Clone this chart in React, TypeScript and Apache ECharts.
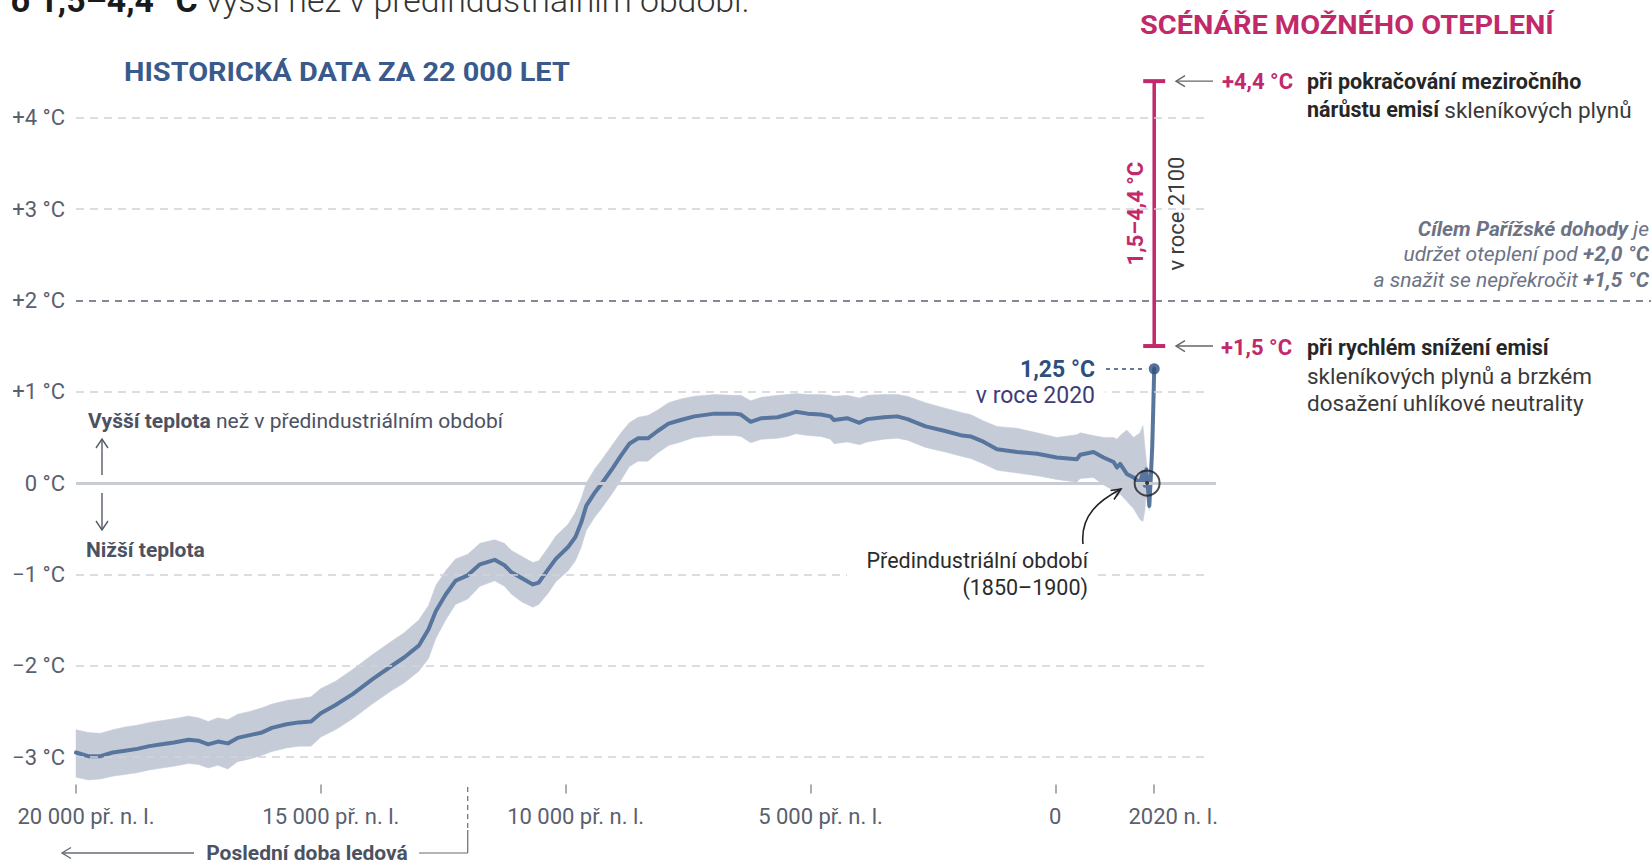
import React, { useEffect, useRef } from "react";
import * as echarts from "echarts";

const FONT = "Roboto, 'Noto Sans', sans-serif";

// ---- data ----
const years = [
  -20000, -19750, -19500, -19250, -19000, -18750, -18500, -18250, -18000, -17700,
  -17500, -17300, -17100, -16900, -16700, -16450, -16200, -16000, -15700, -15450,
  -15200, -15000, -14700, -14350, -13950, -13550, -13300, -13000, -12800, -12650,
  -12450, -12250, -12000, -11750, -11450, -11250, -11100, -10900, -10670, -10550,
  -10350, -10200, -9950, -9800, -9680, -9580, -9400, -9270, -9070, -8870,
  -8700, -8520, -8320, -8120, -7900, -7650, -7370, -6960, -6560, -6420,
  -6220, -6000, -5670, -5470, -5300, -5060, -4790, -4590, -4520, -4250,
  -4000, -3840, -3500, -3230, -3020, -2650, -2250, -1900, -1730, -1460,
  -1190, -780, -370, 30, 440, 510, 780, 985, 1190, 1260,
  1325, 1460, 1600, 1730, 1790, 1830, 1860, 1890, 1920, 1950,
  1980, 2000, 2020,
];
const meanTemp = [
  -2.95, -2.99, -2.99, -2.95, -2.93, -2.91, -2.88, -2.86, -2.84, -2.81,
  -2.82, -2.86, -2.83, -2.85, -2.79, -2.76, -2.73, -2.68, -2.64, -2.62,
  -2.61, -2.52, -2.43, -2.31, -2.15, -2.0, -1.91, -1.78, -1.6, -1.4,
  -1.22, -1.07, -1.01, -0.89, -0.84, -0.9, -0.98, -1.04, -1.11, -1.09,
  -0.94, -0.83, -0.7, -0.59, -0.43, -0.25, -0.1, -0.01, 0.14, 0.3,
  0.43, 0.49, 0.49, 0.57, 0.65, 0.69, 0.73, 0.76, 0.76, 0.75,
  0.67, 0.71, 0.72, 0.75, 0.78, 0.76, 0.75, 0.73, 0.69, 0.71,
  0.66, 0.7, 0.72, 0.73, 0.7, 0.62, 0.57, 0.52, 0.51, 0.45,
  0.37, 0.34, 0.32, 0.28, 0.26, 0.31, 0.34, 0.28, 0.23, 0.17,
  0.21, 0.1, 0.06, 0.0, 0.12, -0.03, 0.15, -0.05, -0.25, 0.05,
  0.4, 0.8, 1.25,
];
const bandLow = [
  -3.22, -3.25, -3.24, -3.21, -3.19, -3.17, -3.14, -3.12, -3.1, -3.07,
  -3.08, -3.12, -3.09, -3.13, -3.05, -3.02, -2.98, -2.94, -2.9, -2.88,
  -2.88, -2.78, -2.7, -2.58, -2.42, -2.27, -2.19, -2.06, -1.92, -1.7,
  -1.5, -1.33, -1.27, -1.13, -1.07, -1.13, -1.22, -1.3, -1.36, -1.33,
  -1.2, -1.08, -0.96, -0.85, -0.7, -0.52, -0.37, -0.28, -0.13, 0.03,
  0.18, 0.24, 0.24, 0.33, 0.41, 0.45, 0.5, 0.52, 0.52, 0.51,
  0.44, 0.48, 0.49, 0.51, 0.54, 0.52, 0.51, 0.48, 0.43, 0.45,
  0.42, 0.45, 0.48, 0.49, 0.47, 0.39, 0.34, 0.29, 0.27, 0.21,
  0.14, 0.11, 0.08, 0.04, 0.01, 0.05, 0.06, -0.02, -0.08, -0.15,
  -0.12, -0.2, -0.28, -0.4, -0.42, -0.3, -0.05, -0.25, -0.3, 0.0,
  0.35, 0.75, 1.2,
];
const bandHigh = [
  -2.7, -2.73, -2.74, -2.7, -2.67, -2.65, -2.62, -2.6, -2.58, -2.55,
  -2.57, -2.61, -2.57, -2.59, -2.53, -2.5, -2.46, -2.42, -2.38, -2.36,
  -2.34, -2.25, -2.17, -2.04, -1.88, -1.73, -1.64, -1.5, -1.34, -1.12,
  -0.96, -0.83, -0.78, -0.66, -0.62, -0.66, -0.74, -0.8, -0.87, -0.85,
  -0.7, -0.58, -0.45, -0.32, -0.17, 0.0, 0.16, 0.25, 0.4, 0.55,
  0.66, 0.72, 0.74, 0.8, 0.88, 0.92, 0.95, 0.97, 0.96, 0.96,
  0.9, 0.94, 0.96, 0.97, 0.98, 0.97, 0.97, 0.96, 0.95, 0.96,
  0.93, 0.96, 0.97, 0.97, 0.95, 0.88, 0.82, 0.77, 0.75, 0.68,
  0.62, 0.6, 0.55, 0.5, 0.53, 0.55, 0.52, 0.5, 0.5, 0.48,
  0.52, 0.58, 0.5, 0.55, 0.63, 0.4, 0.25, 0.1, -0.15, 0.1,
  0.45, 0.85, 1.3,
];

const yTicks = [-3, -2, -1, 0, 1, 2, 3, 4];
const yTickLabels = ["−3 °C", "−2 °C", "−1 °C", "0 °C", "+1 °C", "+2 °C", "+3 °C", "+4 °C"];
const xTicks = [-20000, -15000, -10000, -5000, 0, 2020];
const xTickLabels = ["20 000 př. n. l.", "15 000 př. n. l.", "10 000 př. n. l.", "5 000 př. n. l.", "0", "2020 n. l."];

const currentPoint = [2020, 1.25];
const scenarioYear = 2020;
const scenarioRange = [1.5, 4.4];
const parisTarget = 2;
const preindustrialPoint = [1875, 0];
const iceAgeEnd = -12000;

// ---- layout / style ----
const X_MIN = -20000;
const X_MAX = 12166;
const Y_MIN = -3.3;
const Y_MAX = 4.5;
const GRID_END = 3160;
const ZERO_END = 3282;

const LINE = "#58759d";
const BAND = "#c5ccd8";
const DOT = "#2e4f7d";
const MAGENTA = "#c2296b";
const TITLE_BLUE = "#3a5a8c";
const AXIS_TEXT = "#59606e";
const NOTE = "#4b5262";

function measure(text: string, font: string): number {
  const c = document.createElement("canvas").getContext("2d");
  if (!c) return 0;
  c.font = font;
  return c.measureText(text).width;
}

function gridLines() {
  return yTicks.map((v) => {
    let end = GRID_END;
    let lineStyle: any = { color: "#cfd2da", width: 1.5, type: [8, 6] };
    if (v === 0) {
      end = ZERO_END;
      lineStyle = { color: "#c9ccd4", width: 3, type: "solid" };
    } else if (v === parisTarget) {
      end = X_MAX;
      lineStyle = { color: "#5b6273", width: 1.5, type: [7, 6] };
    }
    return [{ coord: [X_MIN, v], lineStyle }, { coord: [end, v] }];
  });
}

function buildOption(): any {
  return {
    animation: false,
    backgroundColor: "#ffffff",
    grid: { left: 76, top: 72, width: 1575, height: 712.5, containLabel: false, outerBoundsMode: "none" },
    xAxis: {
      type: "value",
      min: X_MIN,
      max: X_MAX,
      axisLine: { show: false, onZero: false },
      splitLine: { show: false },
      axisTick: { show: true, customValues: xTicks, length: 9, lineStyle: { color: "#8d929c", width: 1.5 } },
      axisLabel: {
        customValues: xTicks,
        margin: 21,
        color: AXIS_TEXT,
        fontSize: 22,
        fontFamily: FONT,
        formatter: (v: number) => {
          const i = xTicks.indexOf(v);
          const s = i >= 0 ? xTickLabels[i] : "";
          if (v === 0) return `{z|${s}}`;
          if (v === 2020) return `{q|${s}}`;
          return `{p|${s}}`;
        },
        rich: {
          p: { padding: [0, 0, 0, 20], fontSize: 22, fontFamily: FONT, color: AXIS_TEXT },
          z: { fontSize: 22, fontFamily: FONT, color: AXIS_TEXT },
          q: { padding: [0, 0, 0, 38], fontSize: 22, fontFamily: FONT, color: AXIS_TEXT },
        },
      },
    },
    yAxis: {
      type: "value",
      min: Y_MIN,
      max: Y_MAX,
      axisLine: { show: false, onZero: false },
      axisTick: { show: false },
      splitLine: { show: false },
      axisLabel: {
        customValues: yTicks,
        margin: 11,
        color: AXIS_TEXT,
        fontSize: 22,
        fontFamily: FONT,
        formatter: (v: number) => {
          const i = yTicks.indexOf(v);
          return i >= 0 ? yTickLabels[i] : "";
        },
      },
    },
    series: [
      {
        type: "line",
        name: "grid",
        data: [[X_MIN, Y_MIN]],
        symbol: "none",
        lineStyle: { width: 0 },
        silent: true,
        z: 1,
        markLine: {
          silent: true,
          symbol: ["none", "none"],
          label: { show: false },
          emphasis: { disabled: true },
          data: gridLines(),
        },
      },
      {
        type: "custom",
        name: "band",
        data: [[0, 0]],
        silent: true,
        clip: false,
        z: 2,
        renderItem: (_params: any, api: any) => {
          const up = years.map((y, i) => api.coord([y, bandHigh[i]]));
          const dn = years.map((y, i) => api.coord([y, bandLow[i]])).reverse();
          return {
            type: "polygon",
            shape: { points: up.concat(dn) },
            style: { fill: BAND, stroke: BAND, lineWidth: 0.5 },
          };
        },
      },
      {
        type: "line",
        name: "mean",
        data: years.map((y, i) => [y, meanTemp[i]]),
        symbol: "none",
        lineStyle: { color: LINE, width: 4, join: "round", cap: "round" },
        silent: true,
        z: 3,
      },
      {
        type: "line",
        name: "scenario",
        data: scenarioRange.map((v) => [scenarioYear, v]),
        symbol: "rect",
        symbolSize: [22, 4],
        showSymbol: true,
        itemStyle: { color: MAGENTA },
        lineStyle: { color: MAGENTA, width: 3.5 },
        silent: true,
        z: 4,
      },
      {
        type: "scatter",
        name: "current",
        data: [currentPoint],
        symbolSize: 11,
        itemStyle: { color: DOT },
        silent: true,
        z: 5,
      },
      {
        type: "scatter",
        name: "preRing",
        data: [preindustrialPoint],
        symbolSize: 25,
        itemStyle: { color: "rgba(0,0,0,0)", borderColor: "#222222", borderWidth: 2 },
        silent: true,
        z: 5,
      },
      {
        type: "scatter",
        name: "preDot",
        data: [preindustrialPoint],
        symbolSize: 4,
        itemStyle: { color: "#111111" },
        silent: true,
        z: 6,
      },
    ],
  };
}

function txt(x: number, y: number, text: string, o: any = {}) {
  const { rotation, scaleX, z, ...style } = o;
  return {
    type: "text",
    x,
    y,
    rotation: rotation || 0,
    scaleX: scaleX || 1,
    z: z || 20,
    silent: true,
    style: {
      text,
      fontFamily: FONT,
      fontSize: 20,
      fill: "#333333",
      align: "left",
      verticalAlign: "middle",
      ...style,
    },
  };
}

function hArrow(tipX: number, tailX: number, y: number, color: string) {
  return [
    { type: "line", silent: true, z: 20, shape: { x1: tipX, y1: y, x2: tailX, y2: y }, style: { stroke: color, lineWidth: 1.4 } },
    {
      type: "polyline",
      silent: true,
      z: 20,
      shape: { points: [[tipX + 9, y - 5.5], [tipX, y], [tipX + 9, y + 5.5]] },
      style: { stroke: color, lineWidth: 1.4, fill: null },
    },
  ];
}

function vArrow(x: number, tipY: number, tailY: number, color: string) {
  const d = tipY < tailY ? 1 : -1;
  return [
    { type: "line", silent: true, z: 20, shape: { x1: x, y1: tipY, x2: x, y2: tailY }, style: { stroke: color, lineWidth: 1.4 } },
    {
      type: "polyline",
      silent: true,
      z: 20,
      shape: { points: [[x - 6, tipY + 9 * d], [x, tipY], [x + 6, tipY + 9 * d]] },
      style: { stroke: color, lineWidth: 1.4, fill: null },
    },
  ];
}

function buildGraphic(px: (x: number, y: number) => number[]) {
  const els: any[] = [];

  // top (cut) headline
  const topBold = "o 1,5–4,4 °C ";
  const topLight = "vyšší než v předindustriálním období.";
  const wTop = measure(topBold, `bold 34px Roboto`) + measure(topLight, `300 34px Roboto`);
  els.push(
    txt(11, 0.5, `{b|${topBold}}{l|${topLight}}`, {
      fontSize: 34,
      scaleX: wTop > 0 ? 739 / wTop : 0.85,
      rich: {
        b: { fontFamily: FONT, fontSize: 34, fontWeight: "bold", fill: "#1a1a1a", color: "#1a1a1a" },
        l: { fontFamily: FONT, fontSize: 34, fontWeight: 300, fill: "#333333", color: "#333333" },
      },
    })
  );

  // section titles
  const t1 = "HISTORICKÁ DATA ZA 22 000 LET";
  const w1 = measure(t1, "bold 26px Roboto");
  els.push(txt(124, 72.5, t1, { fontSize: 26, fontWeight: "bold", fill: TITLE_BLUE, scaleX: w1 > 0 ? 446 / w1 : 1 }));
  const t2 = "SCÉNÁŘE MOŽNÉHO OTEPLENÍ";
  const w2 = measure(t2, "bold 26px Roboto");
  els.push(txt(1140, 25.5, t2, { fontSize: 26, fontWeight: "bold", fill: MAGENTA, scaleX: w2 > 0 ? 414 / w2 : 1 }));

  // gaps in grid lines behind labels
  const yPlus1 = px(0, 1)[1];
  const yMinus1 = px(0, -1)[1];
  els.push({ type: "rect", silent: true, z: 15, shape: { x: 970, y: yPlus1 - 4, width: 135, height: 8 }, style: { fill: "#ffffff" } });
  els.push({ type: "rect", silent: true, z: 15, shape: { x: 847, y: yMinus1 - 4, width: 250, height: 8 }, style: { fill: "#ffffff" } });

  // scenario labels
  const [, yHigh] = px(scenarioYear, scenarioRange[1]);
  const [, yLow] = px(scenarioYear, scenarioRange[0]);
  els.push(...hArrow(1176, 1213, yHigh, "#666666"));
  els.push(...hArrow(1176, 1213, yLow, "#666666"));
  const richSc = {
    b: { fontFamily: FONT, fontSize: 21.5, fontWeight: "bold", fill: "#262626", color: "#262626" },
    r: { fontFamily: FONT, fontSize: 22.5, fontWeight: "normal", fill: "#3a3a3a", color: "#3a3a3a" },
  };
  els.push(txt(1222, yHigh, "+4,4 °C", { fontSize: 22, fontWeight: "bold", fill: MAGENTA }));
  els.push(txt(1307, yHigh, "{b|při pokračování meziročního}", { fontSize: 21.5, rich: richSc }));
  els.push(txt(1307, yHigh + 28.5, "{b|nárůstu emisí} {r|skleníkových plynů}", { fontSize: 21.5, rich: richSc }));
  els.push(txt(1221, yLow + 1.5, "+1,5 °C", { fontSize: 22, fontWeight: "bold", fill: MAGENTA }));
  els.push(txt(1307, yLow + 1.5, "{b|při rychlém snížení emisí}", { fontSize: 21.5, rich: richSc }));
  els.push(txt(1307, yLow + 30, "{r|skleníkových plynů a brzkém}", { fontSize: 22.5, rich: richSc }));
  els.push(txt(1307, yLow + 57, "{r|dosažení uhlíkové neutrality}", { fontSize: 22.5, rich: richSc }));

  // rotated range labels
  const yMid = (yHigh + yLow) / 2;
  els.push(txt(1135, yMid, "1,5–4,4 °C", { fontSize: 22, fontWeight: "bold", fill: MAGENTA, align: "center", rotation: Math.PI / 2 }));
  els.push(txt(1176, yMid, "v roce 2100", { fontSize: 22, fill: "#3d3d3d", align: "center", rotation: Math.PI / 2 }));

  // Paris agreement note
  const yParis = px(0, parisTarget)[1];
  const richP = {
    bi: { fontFamily: FONT, fontSize: 21, fontStyle: "italic", fontWeight: "bold", fill: "#6c7385", color: "#6c7385" },
    i: { fontFamily: FONT, fontSize: 21, fontStyle: "italic", fill: "#6c7385", color: "#6c7385" },
  };
  els.push(txt(1649, yParis - 71, "{bi|Cílem Pařížské dohody} {i|je}", { fontSize: 21, align: "right", rich: richP }));
  els.push(txt(1649, yParis - 46, "{i|udržet oteplení pod} {bi|+2,0 °C}", { fontSize: 21, align: "right", rich: richP }));
  els.push(txt(1649, yParis - 20, "{i|a snažit se nepřekročit} {bi|+1,5 °C}", { fontSize: 21, align: "right", rich: richP }));

  // current value label
  const [xCur, yCur] = px(currentPoint[0], currentPoint[1]);
  els.push({
    type: "line",
    silent: true,
    z: 20,
    shape: { x1: 1106, y1: yCur, x2: xCur - 8, y2: yCur },
    style: { stroke: DOT, lineWidth: 1.5, lineDash: [4, 4] },
  });
  els.push(txt(1095, yCur + 1, "1,25 °C", { fontSize: 23, fontWeight: "bold", fill: DOT, align: "right" }));
  els.push(txt(1095, yCur + 27, "v roce 2020", { fontSize: 23, fill: "#3e3c78", align: "right" }));

  // pre-industrial label + curved arrow
  els.push(txt(1088, 560, "Předindustriální období", { fontSize: 21.5, fill: "#2b2b2b", align: "right" }));
  els.push(txt(1088, 587, "(1850–1900)", { fontSize: 21.5, fill: "#2b2b2b", align: "right" }));
  const ex = 1121, ey = 489;
  els.push({
    type: "bezierCurve",
    silent: true,
    z: 20,
    shape: { x1: 1083, y1: 544, cpx1: 1080, cpy1: 515, cpx2: 1100, cpy2: 500, x2: ex, y2: ey },
    style: { stroke: "#222222", lineWidth: 1.6, fill: null },
  });
  els.push({
    type: "polyline",
    silent: true,
    z: 20,
    shape: { points: [[1110.5, 490.5], [ex, ey], [1114, 499.5]] },
    style: { stroke: "#222222", lineWidth: 1.6, fill: null },
  });

  // higher / lower note
  const richN = {
    b: { fontFamily: FONT, fontSize: 21, fontWeight: "bold", fill: NOTE, color: NOTE },
    r: { fontFamily: FONT, fontSize: 21, fill: NOTE, color: NOTE },
  };
  els.push(txt(88, 421, "{b|Vyšší teplota} {r|než v předindustriálním období}", { fontSize: 21, rich: richN }));
  els.push(...vArrow(102, 439, 475, "#555c68"));
  els.push(...vArrow(102, 530, 493, "#555c68"));
  els.push(txt(86, 550, "Nižší teplota", { fontSize: 21, fontWeight: "bold", fill: NOTE }));

  // last glacial period marker
  const xIce = px(iceAgeEnd, 0)[0];
  const yB = 853;
  els.push({ type: "line", silent: true, z: 20, shape: { x1: xIce, y1: 787, x2: xIce, y2: 830 }, style: { stroke: "#666b75", lineWidth: 1.2, lineDash: [5, 4] } });
  els.push({ type: "line", silent: true, z: 20, shape: { x1: xIce, y1: 830, x2: xIce, y2: yB }, style: { stroke: "#666b75", lineWidth: 1.2 } });
  els.push({ type: "line", silent: true, z: 20, shape: { x1: 419, y1: yB, x2: xIce, y2: yB }, style: { stroke: "#666b75", lineWidth: 1.2 } });
  els.push(...hArrow(62, 194, yB, "#666b75"));
  els.push(txt(307, yB, "Poslední doba ledová", { fontSize: 21, fontWeight: "bold", fill: NOTE, align: "center" }));

  return els;
}

export default function App() {
  const ref = useRef<HTMLDivElement>(null);
  useEffect(() => {
    if (!ref.current) return;
    const chart = echarts.init(ref.current, null, { renderer: "svg" });
    chart.setOption(buildOption());
    const px = (x: number, y: number) => chart.convertToPixel({ gridIndex: 0 }, [x, y]) as number[];
    chart.setOption({ graphic: { elements: buildGraphic(px) } });
    return () => chart.dispose();
  }, []);
  return (
    <div
      ref={ref}
      style={{ position: "fixed", left: 0, top: 0, width: 1651, height: 864, background: "#ffffff" }}
    />
  );
}
